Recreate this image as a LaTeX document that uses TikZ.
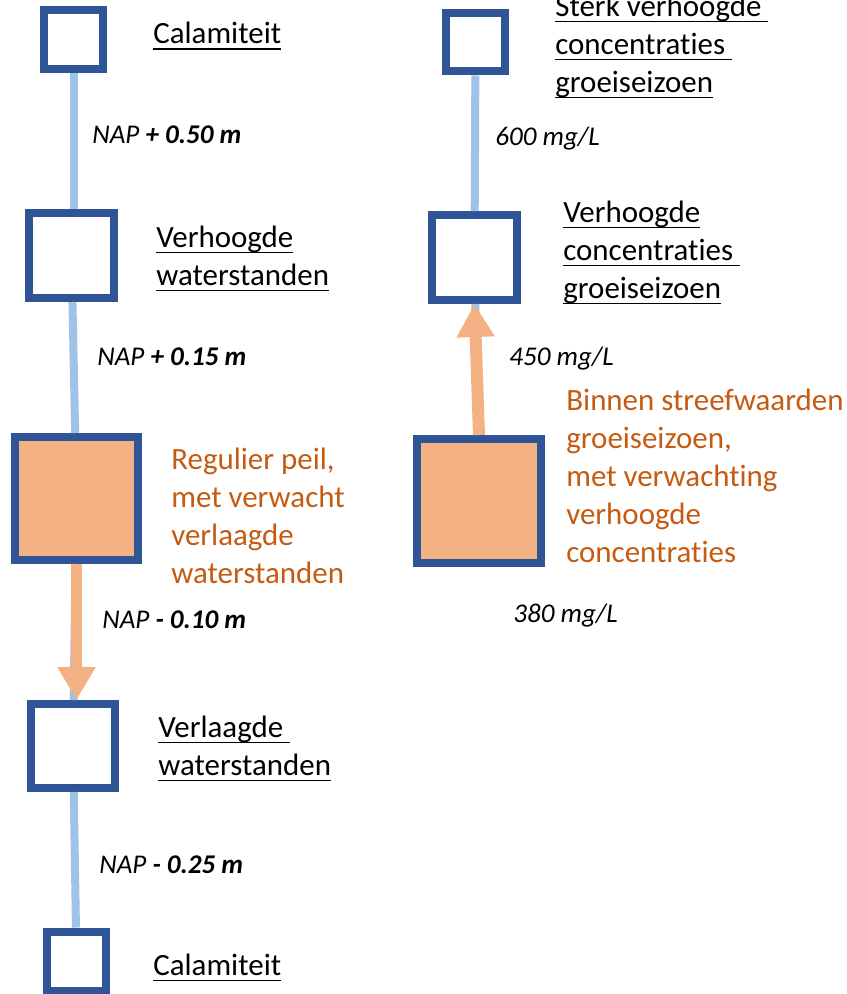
\documentclass[tikz,border=0pt]{standalone}
\usepackage{fontspec}
\setmainfont[Ligatures=NoCommon]{Carlito}
\usetikzlibrary{arrows.meta}
\definecolor{kader}{HTML}{2F5597}
\definecolor{peil}{HTML}{F4B183}
\definecolor{lijn}{HTML}{9DC3E6}
\definecolor{notatekst}{HTML}{C55A11}
\newsavebox{\ondbox}
\newcommand{\ondstr}[1]{\sbox{\ondbox}{#1}\rlap{\rule[-3.6pt]{\wd\ondbox}{1pt}}\usebox{\ondbox}}

\begin{document}
\begin{tikzpicture}[x=0.02cm, y=-0.02cm,
    lvl/.style={draw=kader, line width=0.16cm, fill=white, inner sep=0pt, minimum size=#1},
    lvlnu/.style={lvl=#1, fill=peil},
    lnk/.style={draw=lijn, line width=0.16cm},
    arr/.style={draw=peil, line width=0.24cm, -{Triangle[width=0.72cm, length=0.66cm]}},
    ttl/.style={anchor=base west, inner sep=0pt, align=left, font=\fontsize{17.6}{21.6}\selectfont},
    nota/.style={ttl, text=notatekst},
    val/.style={anchor=base west, inner sep=0pt, font=\fontsize{15.4}{18}\selectfont\itshape}
]
\useasboundingbox (0,0) rectangle (846,994);

% waterstanden
\node[lvl=1.18cm] (cal1) at (73.5,39.5) {};
\node[lvl=1.70cm] (hoog) at (71.5,255.5) {};
\node[lvlnu=2.46cm] (reg) at (76.5,498.5) {};
\node[lvl=1.68cm] (laag) at (73,746) {};
\node[lvl=1.18cm] (cal2) at (76.5,961) {};

% concentraties
\node[lvl=1.18cm] (sterk) at (475.5,42) {};
\node[lvl=1.70cm] (conc) at (474.5,257.5) {};
\node[lvlnu=2.48cm] (binnen) at (479,501) {};

\draw[lnk] (cal1) -- (cal1 |- hoog.north);
\draw[lnk] (hoog) -- (reg);
\draw[lnk] (reg) -- (laag);
\draw[lnk] (laag) -- (cal2);
\draw[lnk] (sterk) -- (conc);
\draw[lnk] (binnen) -- (conc);
\draw[arr] (reg.south) -- (reg.south |- laag.north);
\draw[arr] (binnen.north) -- (conc.south);

% base = last line
\node[ttl] (tcal1) at (153,43.5) {\ondstr{Calamiteit}};
\node[ttl] (thoog) at (156,285) {\ondstr{Verhoogde}\\\ondstr{waterstanden}};
\node[nota] (treg) at (171,583) {Regulier peil,\\met verwacht\\verlaagde\\waterstanden};
\node[ttl] (tlaag) at (158,775) {\ondstr{Verlaagde\ }\\\ondstr{waterstanden}};
\node[ttl] (tcal2) at (153,975) {\ondstr{Calamiteit}};

\node[ttl] (tsterk) at (555,92) {\ondstr{Sterk verhoogde\ }\\\ondstr{concentraties\ }\\\ondstr{groeiseizoen}};
\node[ttl] (tconc) at (563,298) {\ondstr{Verhoogde}\\\ondstr{concentraties\ }\\\ondstr{groeiseizoen}};
\node[nota] (tbinnen) at (566,562) {Binnen streefwaarden\\groeiseizoen,\\met verwachting\\verhoogde\\concentraties};

\node[val] (v1) at (92,143) {NAP \textbf{+ 0.50 m}};
\node[val] (v2) at (97,365) {NAP \textbf{+ 0.15 m}};
\node[val] (v3) at (102,628) {NAP \textbf{- 0.10 m}};
\node[val] (v4) at (99,873) {NAP \textbf{- 0.25 m}};
\node[val] (c1) at (495,145) {600 mg/L};
\node[val] (c2) at (509,365) {450 mg/L};
\node[val] (c3) at (513,622) {380 mg/L};
\end{tikzpicture}
\end{document}
